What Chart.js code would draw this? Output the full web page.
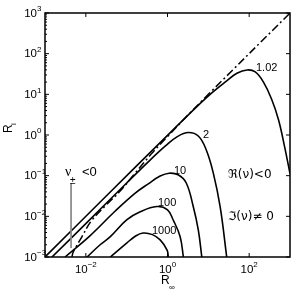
<!DOCTYPE html>
<html><head><meta charset="utf-8">
<script src="https://cdn.jsdelivr.net/npm/chart.js@4/dist/chart.umd.min.js"></script>
<style>html,body{margin:0;padding:0;background:#fff}canvas{display:block}</style>
</head><body><canvas id="c" width="293" height="291"></canvas>
<script>
// Tick label exponents
const X_EXP = [-2, 0, 2];
const Y_EXP = [-3, -2, -1, 0, 1, 2, 3];
const CURVE_LABELS = ['1.02', '2', '10', '100', '1000'];

// Curve 1.02
const c102X = [0.001, 0.0316, 1, 5.01, 12.6, 28.2, 50.1, 89.1, 141, 224, 355, 525, 741, 1000];
const c102Y = [0.001, 0.0316, 0.977, 4.79, 11.2, 21.4, 33.1, 39.8, 35.5, 19.95, 7.59, 2.34, 0.501, 0.112];
// Curve 2
const c2X = [1.48e-3, 0.01, 0.1, 0.380, 0.891, 1.74, 3.24, 5.75, 8.91, 13.2, 19.5, 28.2];
const c2Y = [0.001, 6.61e-3, 0.0661, 0.245, 0.537, 0.912, 1.148, 0.933, 0.427, 0.117, 0.0170, 0.001];
// Curve 10
const c10X = [3.09e-3, 0.0126, 0.0525, 0.162, 0.339, 0.661, 1.096, 1.82, 2.88, 4.27, 5.69, 6.92];
const c10Y = [0.001, 3.31e-3, 0.0135, 0.0372, 0.0631, 0.0977, 0.115, 0.105, 0.0661, 0.0174, 4.57e-3, 0.001];
// Curve 100
const c100X = [0.0107, 0.0224, 0.0398, 0.1, 0.214, 0.550, 1, 1.38, 2.04, 2.45];
const c100Y = [0.001, 2.0e-3, 3.16e-3, 8.13e-3, 0.0129, 0.0174, 0.0145, 8.13e-3, 3.16e-3, 0.001];
// Curve 1000
const c1000X = [0.0398, 0.1, 0.162, 0.251, 0.427, 0.661, 0.977, 1.047];
const c1000Y = [0.001, 2.19e-3, 3.24e-3, 3.89e-3, 3.55e-3, 2.63e-3, 1.48e-3, 0.001];
// Dash-dot boundary (nu_pm < 0)
const dashX = [4.57e-3, 4.90e-3, 7.94e-3, 0.0135, 0.0316, 0.0692, 0.158, 0.398, 1, 3.16, 10, 1000];
const dashY = [0.001, 1.32e-3, 3.09e-3, 7.59e-3, 0.0191, 0.0417, 0.112, 0.339, 0.912, 3.09, 10, 1000];
// Pointer line for the nu label
const ptrX = [0.00435, 0.00435];
const ptrY = [0.066, 0.00166];

const pts = (xs, ys) => xs.map((v, i) => ({x: v, y: ys[i]}));
const solid = (xs, ys) => ({data: pts(xs, ys), borderColor: '#000', borderWidth: 1.6, pointRadius: 0, showLine: true, tension: 0.4, fill: false});

const FONT = '"Liberation Sans", Arial, sans-serif';

const deco = {
  id: 'deco',
  afterDatasetsDraw(chart) {
    const {ctx, chartArea: a, scales: {x, y}} = chart;
    ctx.save();
    ctx.strokeStyle = '#000';
    ctx.fillStyle = '#000';
    ctx.lineWidth = 1.5;
    ctx.strokeRect(a.left, a.top, a.right - a.left, a.bottom - a.top);
    ctx.lineWidth = 1;
    const seg = (x1, y1, x2, y2) => { ctx.beginPath(); ctx.moveTo(x1, y1); ctx.lineTo(x2, y2); ctx.stroke(); };
    // y ticks
    Y_EXP.forEach(e => {
      const py = y.getPixelForValue(Math.pow(10, e));
      seg(a.left, py, a.left + 4, py);
      seg(a.right, py, a.right - 4, py);
    });
    for (let e = -3; e < 3; e++) {
      for (let m = 2; m <= 9; m++) {
        const py = y.getPixelForValue(m * Math.pow(10, e));
        seg(a.left, py, a.left + 2, py);
      }
    }
    // x ticks
    X_EXP.forEach(e => {
      const px = x.getPixelForValue(Math.pow(10, e));
      seg(px, a.top, px, a.top + 4);
      seg(px, a.bottom, px, a.bottom - 4);
    });
    // y tick labels
    ctx.textBaseline = 'middle';
    Y_EXP.forEach(e => {
      const py = y.getPixelForValue(Math.pow(10, e));
      ctx.font = '11.5px ' + FONT;
      ctx.textAlign = 'right';
      ctx.fillText('10', 37, py + 0.5);
      ctx.font = '8px ' + FONT;
      ctx.textAlign = 'left';
      ctx.fillText(e < 0 ? '\u2212' + (-e) : String(e), 37, py - 4);
    });
    // x tick labels
    X_EXP.forEach(e => {
      const px = x.getPixelForValue(Math.pow(10, e));
      const ex = e < 0 ? '\u2212' + (-e) : String(e);
      ctx.font = '8px ' + FONT;
      const we = ctx.measureText(ex).width;
      ctx.font = '11.5px ' + FONT;
      const wb = ctx.measureText('10').width;
      const x0 = px - (wb + we) / 2;
      ctx.textAlign = 'left';
      ctx.fillText('10', x0, 270);
      ctx.font = '8px ' + FONT;
      ctx.fillText(ex, x0 + wb, 265);
    });
    // axis titles
    ctx.font = '12px ' + FONT;
    ctx.textAlign = 'left';
    ctx.fillText('R', 161, 281);
    ctx.font = '8px ' + FONT;
    ctx.fillText('\u221E', 169, 288);
    ctx.save();
    ctx.translate(9, 133);
    ctx.rotate(-Math.PI / 2);
    ctx.font = '12px ' + FONT;
    ctx.fillText('R', 0, 0);
    ctx.font = '8px ' + FONT;
    ctx.fillText('i', 8, 5);
    ctx.restore();
    // curve labels
    ctx.font = '11px ' + FONT;
    ctx.textAlign = 'left';
    const lp = [[256, 68], [203, 135], [174, 171], [158, 203], [152, 231]];
    CURVE_LABELS.forEach((t, i) => ctx.fillText(t, lp[i][0], lp[i][1]));
    // region labels
    ctx.font = '12px "DejaVu Sans", sans-serif';
    ctx.fillText('\u211C(\u03BD)<0', 228, 175);
    ctx.fillText('\u2111(\u03BD)\u2260 0', 228, 217);
    ctx.font = '14px "Liberation Serif", serif';
    ctx.fillText('\u03BD', 65, 172);
    ctx.font = '10px ' + FONT;
    ctx.fillText('\u00B1', 70, 181);
    ctx.font = '13px ' + FONT;
    ctx.fillText('<0', 82, 172);
    ctx.restore();
  }
};

new Chart(document.getElementById('c'), {
  type: 'scatter',
  data: {
    datasets: [
      {data: pts(dashX, dashY), borderColor: '#000', borderWidth: 1.5, borderDash: [8, 3, 2, 3], pointRadius: 0, showLine: true, tension: 0.4, fill: false},
      {data: pts(ptrX, ptrY), borderColor: '#888', borderWidth: 1, pointRadius: 0, showLine: true, fill: false},
      solid(c102X, c102Y),
      solid(c2X, c2Y),
      solid(c10X, c10Y),
      solid(c100X, c100Y),
      solid(c1000X, c1000Y)
    ]
  },
  options: {
    responsive: false,
    animation: false,
    devicePixelRatio: 1,
    layout: {padding: {left: 45, right: 3, top: 13, bottom: 34}},
    plugins: {legend: {display: false}, tooltip: {enabled: false}},
    scales: {
      x: {type: 'logarithmic', min: 1e-3, max: 1e3, display: false},
      y: {type: 'logarithmic', min: 1e-3, max: 1e3, display: false}
    }
  },
  plugins: [deco]
});
</script></body></html>
